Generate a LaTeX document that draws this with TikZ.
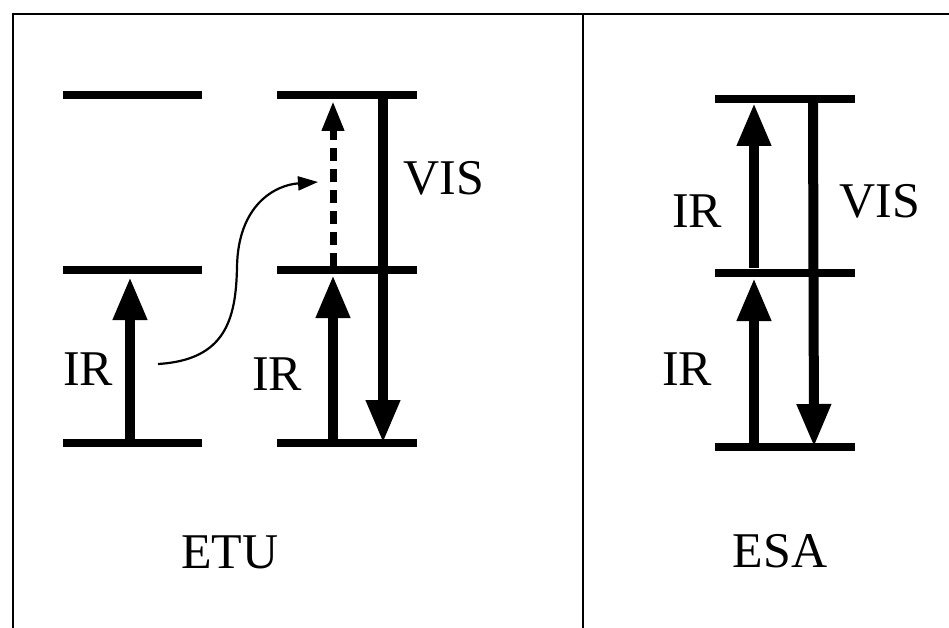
\documentclass[tikz,border=0pt]{standalone}
\usepackage{fontspec}
\setmainfont{Liberation Serif}
\usetikzlibrary{arrows.meta}
\begin{document}
\begin{tikzpicture}[x=1pt,y=-1pt,
  level/.style={line width=8pt},
  bigarrow/.style={line width=10pt,-{Triangle[length=43pt,width=32pt]}},
  dasharrow/.style={line width=7pt,dash pattern=on 13pt off 8pt,-{Triangle[length=30pt,width=21pt]}},
  thinarrow/.style={line width=2.2pt,-{Triangle[length=20pt,width=14pt]}},
  lbl/.style={anchor=base,inner sep=0pt,font=\fontsize{50}{50}\selectfont},
  frame/.style={line width=1.8pt}]
\useasboundingbox (0,0) rectangle (949,628);
% frame
\draw[frame] (13,628) -- (13,14) -- (949,14);
\draw[line width=1.5pt] (583,14) -- (583,628);
% ETU levels
\draw[level] (63,95) -- (202,95);
\draw[level] (63,270) -- (202,270);
\draw[level] (63,443) -- (202,443);
\draw[level] (277,95) -- (417,95);
\draw[level] (277,270) -- (417,270);
\draw[level] (277,443) -- (417,443);
% ETU arrows
\coordinate (a1s) at (130,443); \coordinate (a1e) at (130,277);
\draw[bigarrow] (a1s) -- (a1e);
\coordinate (a2s) at (333,443); \coordinate (a2e) at (333,275);
\draw[bigarrow] (a2s) -- (a2e);
\coordinate (a3s) at (333,266); \coordinate (a3e) at (333,101);
\draw[dasharrow] (a3s) -- (a3e);
\coordinate (a4s) at (383,99); \coordinate (a4e) at (383,443);
\draw[bigarrow] (a4s) -- (a4e);
\coordinate (cs) at (158,364); \coordinate (cm) at (237,267); \coordinate (ce) at (318,182);
\draw[thinarrow] (cs) .. controls (225,360) and (236,320) .. (cm) .. controls (238,205) and (275,185) .. (ce);
% ETU labels
\node[lbl] (ir1) at (88,385) {IR};
\node[lbl] (ir2) at (277,390) {IR};
\node[lbl] (vis1) at (444,195) {VIS};
\node[lbl] (etu) at (230,568) {ETU};
% ESA levels
\draw[level] (715,99) -- (855,99);
\draw[level] (715,273) -- (855,273);
\draw[level] (715,447) -- (855,447);
% ESA arrows
\coordinate (b1s) at (754,268); \coordinate (b1e) at (754,103);
\draw[bigarrow] (b1s) -- (b1e);
\coordinate (b2s) at (754,447); \coordinate (b2e) at (754,278);
\draw[bigarrow] (b2s) -- (b2e);
\coordinate (b3s) at (813,103); \coordinate (b3e) at (814,447);
\draw[bigarrow] (b3s) -- (b3e);
% ESA labels
\node[lbl] (ir3) at (697,227) {IR};
\node[lbl] (ir4) at (687,385) {IR};
\node[lbl] (vis2) at (880,218) {VIS};
\node[lbl] (esa) at (780,567) {ESA};
\end{tikzpicture}
\end{document}
